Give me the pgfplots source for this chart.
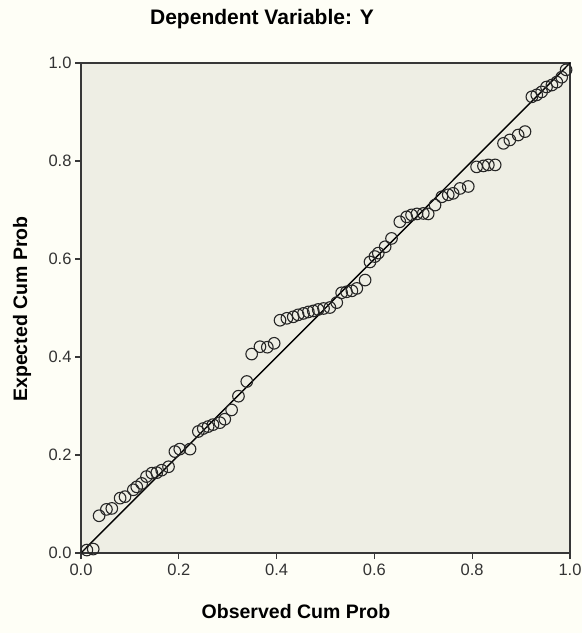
\documentclass[border=0pt]{standalone}
\usepackage{fontspec}
\setmainfont{Liberation Sans}
\usepackage{pgfplots}
\pgfplotsset{compat=1.18}
\definecolor{plotbg}{RGB}{238,238,228}
\definecolor{pagebg}{RGB}{254,254,246}
\definecolor{axgray}{RGB}{55,55,55}
\begin{document}
\begin{tikzpicture}[x=1pt,y=1pt]
\fill[pagebg] (-81,-80) rectangle (501,553);
\begin{axis}[name=ax, at={(0,0)}, anchor=south west, scale only axis,
  width=489pt, height=490pt,
  xmin=0, xmax=1, ymin=0, ymax=1,
  axis background/.style={fill=plotbg},
  axis line style={axgray, line width=1.2pt},
  tick style={axgray, line width=1.2pt},
  tick align=outside, major tick length=6pt,
  xtick pos=bottom, ytick pos=left,
  xtick={0,0.2,0.4,0.6,0.8,1}, ytick={0,0.2,0.4,0.6,0.8,1},
  xticklabels={0.0,0.2,0.4,0.6,0.8,1.0},
  yticklabels={0.0,0.2,0.4,0.6,0.8,1.0},
  ticklabel style={font=\fontsize{16.5}{19}\selectfont, text=black!80},
  /pgf/number format/assume math mode=true,
  xticklabel style={yshift=-1pt},
  yticklabel style={xshift=0pt},
  clip=false,
]
\addplot[black, line width=1.4pt] coordinates {(0,0) (1,1)};
\addplot[only marks, mark=o, mark size=5.8pt, mark options={black!85, line width=1.1pt}] coordinates {
(0.012,0.006) (0.025,0.008) (0.037,0.076) (0.052,0.089) (0.063,0.091)
(0.080,0.112) (0.090,0.115) (0.107,0.129) (0.114,0.135) (0.124,0.142)
(0.134,0.156) (0.145,0.163) (0.155,0.164) (0.165,0.169) (0.179,0.176)
(0.192,0.207) (0.202,0.212) (0.223,0.212) (0.240,0.248) (0.250,0.254)
(0.260,0.258) (0.270,0.262) (0.284,0.266) (0.294,0.273) (0.308,0.292)
(0.322,0.320) (0.339,0.350) (0.349,0.406) (0.366,0.421) (0.381,0.420)
(0.395,0.428) (0.407,0.475) (0.421,0.479) (0.434,0.482) (0.444,0.486)
(0.455,0.489) (0.465,0.492) (0.475,0.494) (0.485,0.497) (0.496,0.499)
(0.509,0.501) (0.523,0.511) (0.533,0.531) (0.543,0.533) (0.554,0.535)
(0.564,0.540) (0.581,0.557) (0.591,0.594) (0.601,0.605) (0.608,0.612)
(0.622,0.625) (0.635,0.642) (0.652,0.676) (0.666,0.686) (0.676,0.690)
(0.687,0.692) (0.700,0.693) (0.710,0.692) (0.724,0.710) (0.738,0.727)
(0.751,0.731) (0.761,0.734) (0.775,0.744) (0.792,0.748) (0.809,0.788)
(0.823,0.790) (0.833,0.792) (0.847,0.792) (0.864,0.836) (0.877,0.843)
(0.894,0.853) (0.908,0.860) (0.922,0.931) (0.932,0.935) (0.942,0.941)
(0.952,0.951) (0.963,0.955) (0.973,0.961) (0.983,0.971) (0.992,0.986)
};
\end{axis}
\node[font=\bfseries\fontsize{21}{24}\selectfont] at (181,534) {Dependent Variable: Y};
\node[font=\bfseries\fontsize{19.5}{22}\selectfont] at (215,-59) {Observed Cum Prob};
\node[font=\bfseries\fontsize{19.5}{22}\selectfont, rotate=90] at (-59,244) {Expected Cum Prob};
\pgfresetboundingbox
\path[use as bounding box] (-81,-80) rectangle (501,553);
\end{tikzpicture}
\end{document}
